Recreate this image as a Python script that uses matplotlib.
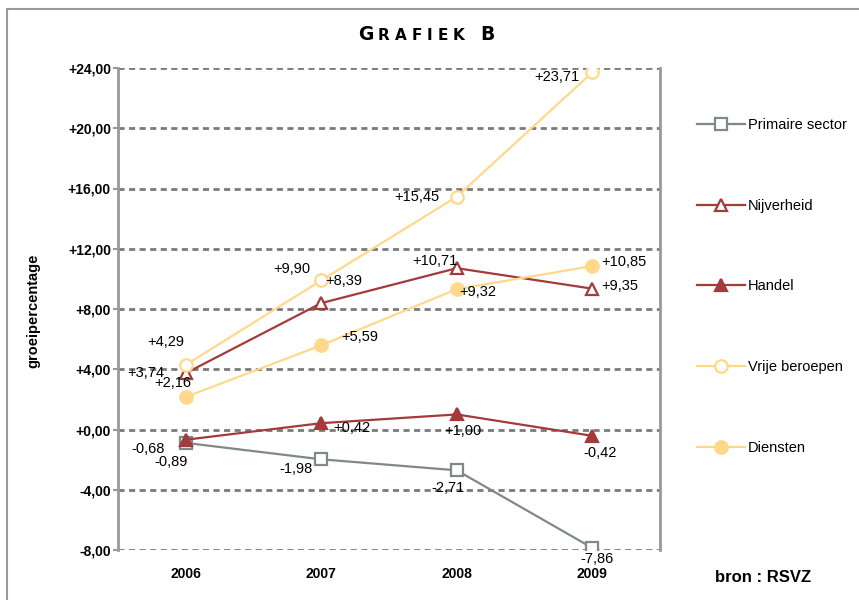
import matplotlib
matplotlib.use("Agg")
import matplotlib.pyplot as plt
from matplotlib import font_manager
from matplotlib.offsetbox import TextArea, HPacker, AnchoredOffsetbox
from matplotlib.patches import Rectangle

# ---------------- data ----------------
years = ["2006", "2007", "2008", "2009"]
primaire = [-0.89, -1.98, -2.71, -7.86]
nijverheid = [3.74, 8.39, 10.71, 9.35]
handel = [-0.68, 0.42, 1.00, -0.42]
vrije = [4.29, 9.90, 15.45, 23.71]
diensten = [2.16, 5.59, 9.32, 10.85]
series_names = ["Primaire sector", "Nijverheid", "Handel", "Vrije beroepen", "Diensten"]
yticks = [-8, -4, 0, 4, 8, 12, 16, 20, 24]

# label offsets in pixels (style)
off_primaire = [(-15, -19), (-25, -10), (-9, -18), (5, -11)]
off_nijverheid = [(-40, 0), (23, 22), (-22, 7), (28, 3)]
off_handel = [(-38, -9), (31, -5), (6, -17), (8, -17)]
off_vrije = [(-20, 23), (-29, 11), (-40, 0), (-35, -5)]
off_diensten = [(-13, 14), (38, 8), (21, -3), (32, 4)]

GREY = "#7f8a87"
RED = "#a33a3b"
YEL = "#ffd88a"
GRID = "#7a7a7a"
AX = "#999999"

plt.rcParams["font.family"] = ["Liberation Sans", "DejaVu Sans"]


def has_font(name):
    try:
        font_manager.findfont(font_manager.FontProperties(family=name), fallback_to_default=False)
        return True
    except Exception:
        return False


if has_font("Liberation Sans Narrow"):
    leg_font = dict(family="Liberation Sans Narrow", size=12)
else:
    leg_font = dict(family="Liberation Sans", size=10.5)

fig = plt.figure(figsize=(8.59, 6.0), dpi=100)
ax = fig.add_axes([118 / 859, 1 - 550 / 600, (660 - 118) / 859, (550 - 68) / 600])

x = list(range(len(years)))

styles = [
    (primaire, GREY, "s", "none", 8.5, off_primaire),
    (nijverheid, RED, "^", "none", 9, off_nijverheid),
    (handel, RED, "^", RED, 9, off_handel),
    (vrije, YEL, "o", "none", 9, off_vrije),
    (diensten, YEL, "o", YEL, 9, off_diensten),
]

handles = []
for (vals, col, mk, mfc, ms, offs), name in zip(styles, series_names):
    ln, = ax.plot(x, vals, color=col, lw=1.6, marker=mk, markersize=ms,
                  markerfacecolor=mfc if mfc != "none" else "white",
                  markeredgecolor=col, markeredgewidth=1.6, label=name, zorder=3)
    handles.append(ln)
    for xi, v, (dx, dy) in zip(x, vals, offs):
        ax.annotate(f"{v:+.2f}".replace(".", ","), (xi, v), xytext=(dx, dy),
                    textcoords="offset pixels", ha="center", va="center",
                    fontsize=10.5, color="black", zorder=4)

ax.set_xlim(-0.5, len(years) - 0.5)
ax.set_ylim(-8, 24)
ax.set_yticks(yticks)
ax.set_yticklabels([f"{t:+.2f}".replace(".", ",") for t in yticks],
                   fontsize=10, fontweight="bold")
ax.set_xticks(x)
ax.set_xticklabels(years, fontsize=10, fontweight="bold")
ax.tick_params(axis="x", length=0, pad=12)
ax.tick_params(axis="y", length=3.6, width=1.5, color=AX, pad=1.5)

ax.grid(axis="y", color=GRID, lw=2, linestyle=(0, (2.2, 1.6)), zorder=1)
ax.set_axisbelow(True)
for s in ["top", "bottom"]:
    ax.spines[s].set_visible(False)
for s in ["left", "right"]:
    ax.spines[s].set_color(AX)
    ax.spines[s].set_linewidth(2)

# legend
fs_px = leg_font["size"] * 100 / 72
leg = ax.legend(handles, series_names, loc="upper left",
                bbox_to_anchor=(697 / 859, 1 - 118 / 600), bbox_transform=fig.transFigure,
                frameon=False, borderpad=0, borderaxespad=0,
                handlelength=48 / fs_px, handletextpad=3 / fs_px,
                labelspacing=(83.5 - fs_px * 1.15) / fs_px,
                prop=leg_font)

# title with small caps emulation
big, small = 13.5, 11
parts = [("G", big), ("R", small), ("A", small), ("F", small), ("I", small),
         ("E", small), ("K", small), (" ", small), ("B", big)]
areas = [TextArea(t, textprops=dict(fontsize=s, fontweight="bold", family="DejaVu Sans"))
         for t, s in parts]
pack = HPacker(children=areas, align="baseline", pad=0, sep=3.6)
title_box = AnchoredOffsetbox(loc="center", child=pack, pad=0, borderpad=0, frameon=False,
                              bbox_to_anchor=(426 / 859, 1 - 35 / 600),
                              bbox_transform=fig.transFigure)
fig.add_artist(title_box)

fig.text(33 / 859, 1 - 311 / 600, "groeipercentage", rotation=90, ha="center", va="center",
         fontsize=10.5, fontweight="bold")
fig.text(763 / 859, 1 - 578 / 600, "bron : RSVZ", ha="center", va="center",
         fontsize=12, fontweight="bold")

fig.add_artist(Rectangle((7 / 859, -0.2), 1.5, 1.2 - 9 / 600, transform=fig.transFigure,
                         fill=False, edgecolor=AX, lw=1.5, clip_on=False))

fig.savefig("out.png", dpi=100)
